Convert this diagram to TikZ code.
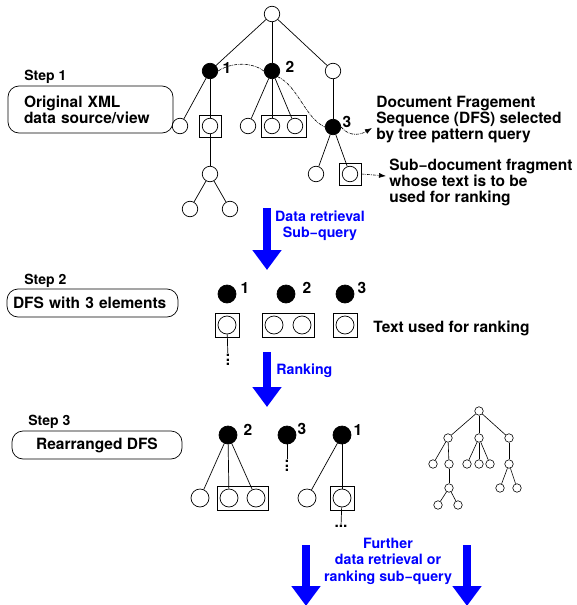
\documentclass[tikz,border=0pt]{standalone}
\usepackage{fontspec}
\setmainfont{TeX Gyre Heros}
\usetikzlibrary{arrows.meta,fit}

\begin{document}
\begin{tikzpicture}[x=1pt, y=-1pt, line width=0.7pt,
  every node/.style={font=\bfseries\fontsize{15.5}{16}\selectfont},
  elem/.style={draw, circle, inner sep=0pt, minimum size=15.5pt},
  sel/.style={elem, fill=black},
  big/.style={minimum size=18pt},
  tiny/.style={draw, circle, inner sep=0pt, minimum size=8.5pt, line width=0.6pt},
  frag/.style={draw, rectangle, inner sep=3pt},
  num/.style={inner sep=0pt},
  more/.style={inner sep=0pt},
  steplabel/.style={anchor=west, inner sep=0pt, font=\bfseries\fontsize{14}{16}\selectfont},
  stepbox/.style={draw, rounded corners=11pt, inner xsep=6pt, inner ysep=0pt},
  note/.style={anchor=west, inner sep=0pt, align=left},
  flow/.style={draw=blue, line width=8pt, -{Triangle[length=20pt, width=28pt]}},
  flowtext/.style={text=blue, align=center, inner sep=0pt, font=\bfseries\fontsize{14.2}{16.5}\selectfont},
  query/.style={densely dashdotted, line width=0.6pt, -{Latex[length=7pt, width=5pt]}}]
\useasboundingbox (0,0) rectangle (576,605);

% step 1: the source tree
\node[elem] (t0) at (272,14) {};
\node[sel] (t1) at (210,71) {};
\node[sel] (t2) at (272,71) {};
\node[elem] (t3) at (333,71) {};
\node[elem] (t11) at (180,126) {};
\node[elem] (t12) at (210,126) {};
\node[elem] (t121) at (210,174) {};
\node[elem] (t1211) at (190,209) {};
\node[elem] (t1212) at (230,209) {};
\node[elem] (t21) at (248,126) {};
\node[elem] (t22) at (272,126) {};
\node[elem] (t23) at (295,126) {};
\node[sel] (t31) at (333,127) {};
\node[elem] (t311) at (316,174) {};
\node[elem] (t312) at (350,174) {};
\node[frag, fit=(t12)] (tb1) {};
\node[frag, fit=(t22)(t23)] (tb2) {};
\node[frag, fit=(t312)] (tb3) {};
\node[num] (tn1) at (227,68) {1};
\node[num] (tn2) at (290,67) {2};
\node[num] (tn3) at (347,122) {3};
\foreach \a/\b in {t0/t1, t0/t2, t0/t3, t1/t11, t1/t12, t12/t121, t121/t1211,
    t121/t1212, t2/t21, t2/t22, t2/t23, t3/t31, t31/t311, t31/t312}
  \draw (\a) -- (\b);

\node[steplabel] (st1) at (24,77) {Step 1};
\node[stepbox, minimum width=165pt, minimum height=47pt, inner xsep=16pt,
  text width=133pt, align=left] (box1) at (90.5,109.5) {Original XML\\data source/view};

\node[note] (doc) at (376,120) {Document Fragement\\Sequence (DFS) selected\\by tree pattern query};
\node[note] (sub) at (389,182) {Sub−document fragment\\whose text is to be\\used for ranking};
\coordinate (docin) at (372,128);
\coordinate (subin) at (386,176);
\draw[query] (t1.east) .. controls (232,62) and (252,62) .. (t2.west)
  (t2.south east) .. controls (298,86) and (305,118) .. (t31.west)
  (t31.east) .. controls (350,138) and (362,134) .. (docin);
\draw[query] (tb3.east) -- (subin);

% retrieval
\coordinate (a1s) at (267,208);
\coordinate (a1e) at (267,270);
\draw[flow] (a1s) -- (a1e);
\node[flowtext] (q1) at (320,226) {Data retrieval\\Sub−query};

% step 2: the DFS
\node[steplabel] (st2) at (24,281) {Step 2};
\node[stepbox, minimum width=171pt, minimum height=28pt, text width=159pt,
  align=left] (box2) at (92.5,303) {DFS with 3 elements};
\node[sel, big] (s1) at (227,294) {};
\node[sel, big] (s2) at (286,294) {};
\node[sel, big] (s3) at (345,294) {};
\node[num] (sn1) at (245,288) {1};
\node[num] (sn2) at (307,288) {2};
\node[num] (sn3) at (362,288) {3};
\node[elem, big] (b1) at (227,325) {};
\node[elem, big] (b21) at (274,325) {};
\node[elem, big] (b22) at (302,325) {};
\node[elem, big] (b3) at (345,325) {};
\node[frag, inner sep=2.5pt, fit=(b1)] (sb1) {};
\node[frag, inner sep=2.5pt, fit=(b21)(b22)] (sb2) {};
\node[frag, inner sep=2.5pt, fit=(b3)] (sb3) {};
\node[more, rotate=90] (d1) at (228,360) {...};
\draw (b1) -- (d1);
\node[note] (txt) at (373,328) {Text used for ranking};

% ranking
\coordinate (a2s) at (267,352);
\coordinate (a2e) at (267,407);
\draw[flow] (a2s) -- (a2e);
\node[flowtext, anchor=west] (q2) at (276,371) {Ranking};

% step 3: the rearranged DFS
\node[steplabel] (st3) at (28,422) {Step 3};
\node[stepbox, minimum width=170pt, minimum height=28pt] (box3) at (97,445) {Rearranged DFS};
\node[sel, big] (r2) at (228,435) {};
\node[sel, big] (r3) at (287,435) {};
\node[sel, big] (r1) at (342,435) {};
\node[num] (rn2) at (248,430) {2};
\node[num] (rn3) at (302,429) {3};
\node[num] (rn1) at (358,430) {1};
\node[elem, big] (c21) at (200,498) {};
\node[elem, big] (c22) at (229,498) {};
\node[elem, big] (c23) at (256,498) {};
\node[elem, big] (c11) at (307,498) {};
\node[elem, big] (c12) at (342,498) {};
\node[frag, inner sep=2.5pt, fit=(c22)(c23)] (rb2) {};
\node[frag, inner sep=2.5pt, fit=(c12)] (rb1) {};
\node[more, rotate=90] (d3) at (287,466) {...};
\node[more] (d4) at (341,526) {...};
\foreach \a/\b in {r2/c21, r2/c22, r2/c23, r3/d3, r1/c11, r1/c12, c12/d4}
  \draw (\a) -- (\b);

% the whole tree, small
\node[tiny] (m0) at (479,411) {};
\node[tiny] (m1) at (448,438) {};
\node[tiny] (m2) at (479,438) {};
\node[tiny] (m3) at (509,438) {};
\node[tiny] (m11) at (433,464) {};
\node[tiny] (m12) at (449,464) {};
\node[tiny] (m121) at (449,488) {};
\node[tiny] (m1211) at (438,505) {};
\node[tiny] (m1212) at (458,505) {};
\node[tiny] (m21) at (467,464) {};
\node[tiny] (m22) at (479,464) {};
\node[tiny] (m23) at (490,464) {};
\node[tiny] (m31) at (509,464) {};
\node[tiny] (m311) at (500,488) {};
\node[tiny] (m312) at (517,488) {};
\foreach \a/\b in {m0/m1, m0/m2, m0/m3, m1/m11, m1/m12, m12/m121, m121/m1211,
    m121/m1212, m2/m21, m2/m22, m2/m23, m3/m31, m31/m311, m31/m312}
  \draw[line width=0.6pt] (\a) -- (\b);

% further queries
\coordinate (a3s) at (306,545);
\coordinate (a3e) at (306,606);
\coordinate (a4s) at (467,545);
\coordinate (a4e) at (467,606);
\draw[flow] (a3s) -- (a3e);
\draw[flow] (a4s) -- (a4e);
\node[flowtext] (q3) at (388,561) {Further\\data retrieval or\\ranking sub−query};
\end{tikzpicture}
\end{document}
